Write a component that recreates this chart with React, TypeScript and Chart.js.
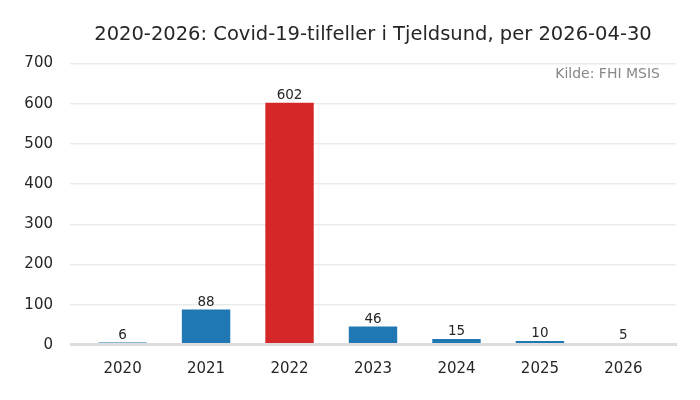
import React, { useEffect, useRef } from "react";
import { Chart, registerables } from "chart.js";

Chart.register(...registerables);

const years = ["2020", "2021", "2022", "2023", "2024", "2025", "2026"];
const cases = [6, 88, 602, 46, 15, 10, 5];
const highlightYear = "2022";
const yTicks = [0, 100, 200, 300, 400, 500, 600, 700];

const FONT = "'DejaVu Sans', sans-serif";
const TEXT = "#262626";

const barLabels = {
	id: "barLabels",
	afterDatasetsDraw(chart: Chart) {
		const ctx = chart.ctx;
		const meta = chart.getDatasetMeta(0);
		const area = chart.chartArea;
		const y0 = chart.scales.y.getPixelForValue(0);
		ctx.save();
		// baseline drawn over the bar feet
		ctx.strokeStyle = "#dddddd";
		ctx.lineWidth = 3;
		ctx.beginPath();
		ctx.moveTo(area.left, y0 - 0.5);
		ctx.lineTo(area.right + 1, y0 - 0.5);
		ctx.stroke();

		ctx.font = `13.5px ${FONT}`;
		ctx.fillStyle = TEXT;
		ctx.textAlign = "center";
		ctx.textBaseline = "middle";
		meta.data.forEach((bar: any, i: number) => {
			ctx.fillText(String(cases[i]), bar.x, bar.y - 7);
		});
		// source note
		ctx.font = `14px ${FONT}`;
		ctx.fillStyle = "#888888";
		ctx.textAlign = "right";
		ctx.fillText("Kilde: FHI MSIS", area.right - 16, area.top + 11);
		ctx.restore();
	},
};

const CovidChart: React.FC = () => {
	const chartRef = useRef<HTMLCanvasElement>(null);
	const chartInstance = useRef<Chart | null>(null);

	useEffect(() => {
		if (!chartRef.current) return;
		if (chartInstance.current) chartInstance.current.destroy();

		const points = years.map((_, i) => ({ x: i, y: cases[i] }));
		const colors = years.map((y) => (y === highlightYear ? "#d62728" : "#1f77b4"));

		chartInstance.current = new Chart(chartRef.current, {
			type: "bar",
			data: {
				datasets: [
					{
						data: points,
						backgroundColor: colors,
						borderWidth: 0,
						barPercentage: 0.58,
						categoryPercentage: 1,
					},
				],
			},
			options: {
				animation: false,
				responsive: false,
				maintainAspectRatio: false,
				layout: { padding: { left: 0, right: 24, bottom: 7, top: 0 } },
				plugins: {
					legend: { display: false },
					tooltip: { enabled: false },
					title: {
						display: true,
						text: "2020-2026: Covid-19-tilfeller i Tjeldsund, per 2026-04-30",
						fullSize: false,
						color: TEXT,
						font: { family: FONT, size: 19.5, weight: "normal" },
						padding: { top: 23, bottom: 17 },
					},
				},
				scales: {
					x: {
						type: "linear",
						offset: false,
						min: -0.63,
						max: 6.63,
						grid: { display: false, drawTicks: false },
						border: { display: false },
						ticks: {
							stepSize: 1,
							includeBounds: false,
							padding: 15,
							color: TEXT,
							font: { family: FONT, size: 15 },
							callback: (v: any) => (Number.isInteger(v) ? years[v] : ""),
						},
					},
					y: {
						min: 0,
						max: 700,
						afterBuildTicks: (scale: any) => {
							scale.ticks = yTicks.map((value) => ({ value }));
						},
						afterFit: (scale: any) => {
							scale.width = 70;
						},
						grid: {
							drawTicks: false,
							color: "#ebebeb",
							lineWidth: 1.5,
						},
						border: { display: false },
						ticks: {
							padding: 17,
							color: TEXT,
							font: { family: FONT, size: 15 },
						},
					},
				},
			},
			plugins: [barLabels],
		});

		return () => {
			if (chartInstance.current) {
				chartInstance.current.destroy();
				chartInstance.current = null;
			}
		};
	}, []);

	return (
		<div style={{ position: "absolute", left: 0, top: 0, width: 700, height: 400, background: "white" }}>
			<canvas ref={chartRef} width={700} height={400} style={{ width: 700, height: 400 }}></canvas>
		</div>
	);
};

export default function App() {
	return <CovidChart />;
}
